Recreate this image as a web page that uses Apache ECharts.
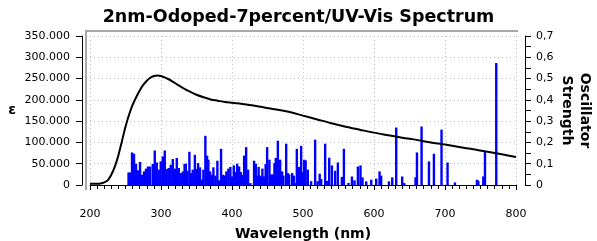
<!DOCTYPE html>
<html>
<head>
<meta charset="utf-8">
<script src="https://cdn.jsdelivr.net/npm/echarts@6/dist/echarts.min.js"></script>
<style>html,body{margin:0;padding:0;background:#fff}#c{width:597px;height:241px}</style>
</head>
<body>
<div id="c"></div>
<script>
var titleText = '2nm-Odoped-7percent/UV-Vis Spectrum';
var xName = 'Wavelength (nm)';
var yLeftName = 'ε';
var yRightName = 'Oscillator\nStrength';

// UV-Vis envelope (epsilon)
var curveWl  = [200,210,215,220,225,230,235,240,245,250,255,260,265,270,275,280,285,290,295,300,310,320,330,340,350,360,370,380,390,400,420,440,460,480,500,520,540,560,580,600,620,640,660,680,700,720,740,760,780,800];
var curveEps = [3000,3000,3500,6000,11000,24000,43000,70000,103000,137000,165000,188000,206000,222000,235000,245000,252000,256000,257500,256000,249000,239000,229000,220000,212000,206000,201000,198000,195000,193000,189000,184000,178000,172000,163000,154000,145000,137000,130000,123000,117000,111000,106000,100000,95000,89000,84000,78000,72000,66000];

// Oscillator strength sticks
var barWl = [254.3,256.8,259.2,262.0,264.8,267.7,270.5,273.3,276.1,278.9,281.7,284.6,288.4,291.2,294.0,296.8,299.6,302.5,305.3,308.1,310.9,313.7,316.6,319.4,322.2,325.0,327.8,330.7,333.2,
  334.9,337.1,340.0,342.4,344.7,347.7,349.8,352.2,355.0,357.4,359.7,362.5,364.9,366.7,369.1,371.5,373.8,376.6,379.4,381.8,384.6,387.5,389.9,392.1,394.9,397.7,400.1,402.5,404.8,407.2,410.0,412.4,414.7,417.1,
  419.9,422.7,425.9,431.1,433.5,435.4,437.5,439.6,441.4,442.8,444.8,447.4,449.5,452.7,455.1,457.9,459.8,461.7,464.6,466.0,467.8,470.6,472.4,476.3,478.6,480.5,484.7,487.1,488.9,491.3,492.7,494.6,497.4,499.8,501.6,
  503.7,506.8,511.5,517.1,520.6,523.5,525.6,531.2,534.0,536.9,540.7,545.3,549.1,554.8,557.6,564.1,568.9,572.5,577.3,581.0,583.8,
  589.0,596.1,603.1,607.8,610.1,621.0,625.7,631.3,639.7,642.6,658.5,660.5,667.0,
  677.4,684.4,695.1,703.6,714.0,745.0,746.9,753.9,756.3,772.2];
var barF = [0.059,0.059,0.153,0.147,0.100,0.069,0.108,0.048,0.064,0.077,0.087,0.087,0.099,0.162,0.106,0.072,0.111,0.134,0.162,0.075,0.080,0.095,0.122,0.077,0.127,0.080,0.056,0.064,0.099,
  0.100,0.067,0.156,0.056,0.072,0.142,0.075,0.103,0.083,0.025,0.072,0.231,0.138,0.119,0.064,0.048,0.083,0.044,0.114,0.022,0.170,0.048,0.044,0.064,0.077,0.085,0.040,0.092,0.061,0.100,0.087,0.061,0.048,0.138,
  0.178,0.072,0.009,0.114,0.100,0.044,0.085,0.044,0.036,0.077,0.040,0.099,0.178,0.119,0.050,0.050,0.103,0.127,0.208,0.010,0.119,0.064,0.044,0.194,0.056,0.050,0.056,0.044,0.009,0.170,0.034,0.085,0.184,0.061,0.119,
  0.116,0.072,0.018,0.213,0.018,0.053,0.028,0.194,0.019,0.128,0.092,0.067,0.106,0.038,0.170,0.010,0.040,0.022,0.087,0.092,0.036,
  0.017,0.025,0.030,0.064,0.044,0.017,0.036,0.270,0.040,0.009,0.036,0.153,0.275,
  0.111,0.147,0.260,0.106,0.012,0.025,0.020,0.040,0.158,0.573];

var FONT = 'DejaVu Sans';
var G = {left: 90, right: 81, top: 36, bottom: 56, containLabel: false, outerBoundsMode: 'none'};
var STICK_W = 2.4;

function deFmt(v) { return String(Math.round(v)).replace(/\B(?=(\d{3})+(?!\d))/g, '.'); }

var chart = echarts.init(document.getElementById('c'), null, {renderer: 'canvas'});
var lineData = curveWl.map(function (w, i) { return [w, curveEps[i]]; });
var barData = barWl.map(function (w, i) { return [w, barF[i]]; });

function renderStick(params, api) {
  var top = api.coord([api.value(0), api.value(1)]);
  var base = api.coord([api.value(0), 0]);
  return {
    type: 'rect',
    shape: {x: top[0] - STICK_W / 2, y: top[1], width: STICK_W, height: base[1] - top[1]},
    style: {fill: '#0000ff'}
  };
}

chart.setOption({
  animation: false,
  backgroundColor: '#fff',
  title: {
    text: titleText, left: 'center', top: 3,
    textStyle: {fontFamily: FONT, fontWeight: 'bold', fontSize: 17.5, color: '#000'}
  },
  grid: G,
  xAxis: {
    type: 'value', min: 200, max: 800, interval: 100,
    offset: 12,
    name: xName, nameLocation: 'middle', nameGap: 30, nameMoveOverlap: false,
    nameTextStyle: {fontFamily: FONT, fontWeight: 'bold', fontSize: 14, color: '#000'},
    axisLine: {show: true, lineStyle: {color: '#000', width: 1}},
    axisTick: {show: true, length: 5, lineStyle: {color: '#000'}},
    minorTick: {show: true, splitNumber: 10, length: 4, lineStyle: {color: '#000'}},
    axisLabel: {fontFamily: FONT, fontSize: 11, color: '#000', margin: 12},
    splitLine: {show: true, lineStyle: {color: '#bdbdbd', type: [1, 3], width: 1}}
  },
  yAxis: [{
    type: 'value', min: 0, max: 350000, interval: 50000,
    position: 'left', offset: 8,
    name: yLeftName, nameLocation: 'middle', nameGap: 66, nameRotate: 0, nameMoveOverlap: false,
    nameTextStyle: {fontFamily: FONT, fontWeight: 'bold', fontSize: 14, color: '#000'},
    axisLine: {show: true, lineStyle: {color: '#000', width: 1}},
    axisTick: {show: true, length: 6, lineStyle: {color: '#000'}},
    axisLabel: {fontFamily: FONT, fontSize: 11, color: '#000', margin: 12, formatter: deFmt},
    splitLine: {show: true, lineStyle: {color: '#bdbdbd', type: [1, 3], width: 1}}
  }, {
    type: 'value', min: 0, max: 0.7, interval: 0.1,
    position: 'right', offset: 9,
    name: yRightName, nameLocation: 'middle', nameGap: 33, nameRotate: -90, nameMoveOverlap: false,
    nameTextStyle: {fontFamily: FONT, fontWeight: 'bold', fontSize: 14, color: '#000', lineHeight: 18},
    axisLine: {show: true, lineStyle: {color: '#000', width: 1}},
    axisTick: {show: true, length: 6, lineStyle: {color: '#000'}},
    minorTick: {show: true, splitNumber: 2, length: 6, lineStyle: {color: '#000'}},
    axisLabel: {fontFamily: FONT, fontSize: 11, color: '#000', margin: 11,
      formatter: function (v) { return v === 0 ? '0' : v.toFixed(1).replace('.', ','); }},
    splitLine: {show: false}
  }],
  graphic: [{
    type: 'polyline', silent: true, z: 0,
    shape: {points: [[G.left - 4, 241 - G.bottom + 5], [G.left - 4, G.top - 5], [597 - G.right + 2, G.top - 5]]},
    style: {stroke: '#a8a8a8', lineWidth: 2, fill: null}
  }],
  series: [{
    type: 'custom', xAxisIndex: 0, yAxisIndex: 1,
    data: barData, renderItem: renderStick,
    encode: {x: 0, y: 1}, z: 2
  }, {
    type: 'line', xAxisIndex: 0, yAxisIndex: 0,
    data: lineData, smooth: 0.3, showSymbol: false, symbol: 'none',
    lineStyle: {color: '#000', width: 2}, z: 3
  }]
});
</script>
</body>
</html>
